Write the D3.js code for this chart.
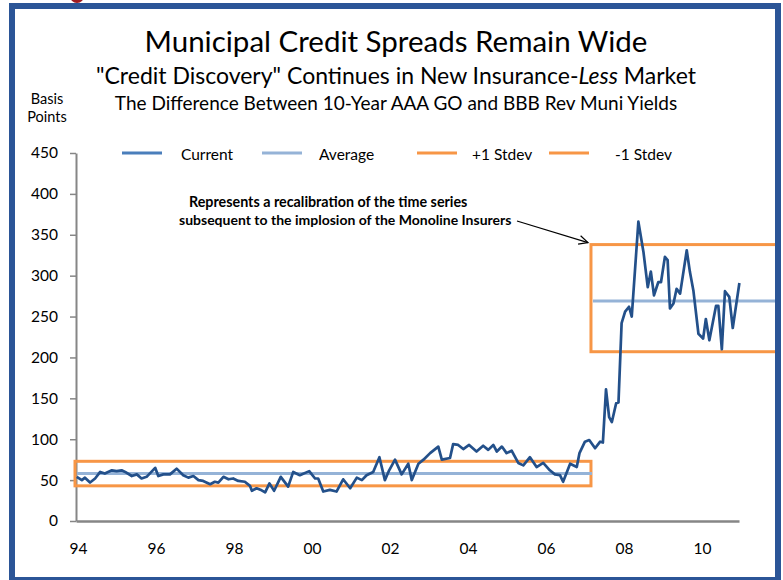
<!doctype html>
<html>
<head>
    <style>
        body { margin: 0; background: #fff; }
        text { font-family: Lato, "Open Sans", sans-serif; }
    </style>
    <script src="https://d3js.org/d3.v7.min.js"></script>
</head>
<body>
<svg width="783" height="580"></svg>
<script>

    // monthly-ish readings of the 10y AAA GO vs BBB Rev spread (bp)
    var years = [
        1994.02, 1994.15, 1994.23, 1994.36, 1994.49, 1994.62, 1994.74, 1994.92,
        1995.04, 1995.17, 1995.26, 1995.43, 1995.56, 1995.68, 1995.81,
        1996.03, 1996.11, 1996.24, 1996.41, 1996.58, 1996.75, 1996.88,
        1997.01, 1997.14, 1997.26, 1997.44, 1997.56, 1997.65, 1997.78, 1997.91,
        1998.03, 1998.16, 1998.33, 1998.46, 1998.51, 1998.63, 1998.76, 1998.85, 1998.96,
        1999.08, 1999.25, 1999.44, 1999.57, 1999.74, 1999.98,
        2000.13, 2000.21, 2000.34, 2000.51, 2000.68, 2000.85,
        2001.03, 2001.20, 2001.33, 2001.45, 2001.62, 2001.78, 2001.92,
        2002.03, 2002.18, 2002.35, 2002.52, 2002.61, 2002.78, 2002.91,
        2003.08, 2003.29, 2003.38, 2003.59, 2003.67, 2003.80, 2003.93,
        2004.08, 2004.27, 2004.44, 2004.57, 2004.70, 2004.79, 2004.92,
        2005.04, 2005.17, 2005.34, 2005.47, 2005.64, 2005.81, 2005.98,
        2006.15, 2006.28, 2006.41, 2006.49, 2006.67, 2006.84, 2006.91,
        2007.05, 2007.16, 2007.31, 2007.44, 2007.51, 2007.59, 2007.67, 2007.74, 2007.85, 2007.91, 2007.99,
        2008.08, 2008.18, 2008.25, 2008.42, 2008.55, 2008.66, 2008.74, 2008.82, 2008.93,
        2009.00, 2009.10, 2009.17, 2009.23, 2009.32, 2009.40, 2009.49, 2009.66, 2009.74, 2009.83, 2009.96,
        2010.08, 2010.15, 2010.24, 2010.41, 2010.47, 2010.56, 2010.64, 2010.75, 2010.84, 2011.01
    ];
    var spread = [
        54, 50, 53, 47, 52, 60, 58, 62,
        61, 62, 60, 55, 57, 52, 54,
        65, 55, 57, 57, 64, 56, 53,
        55, 50, 49, 45, 48, 47, 54, 51,
        52, 49, 48, 43, 37, 40, 37.5, 35, 46,
        37, 54, 42, 60, 56, 61,
        52, 52, 36, 38, 36, 51,
        40, 53, 50, 56, 60, 78, 50,
        62, 75, 57, 70, 50, 70, 75,
        83, 91, 75, 77, 94, 93, 88,
        93, 85, 92, 87, 93, 85, 91,
        83, 86, 71, 68, 78, 66, 71,
        62, 57, 56, 48, 70, 66, 83,
        97, 99, 89, 97, 96, 161, 127, 121, 144, 145, 242,
        256, 262, 250, 366, 329, 286, 305, 276, 292,
        292, 323, 319, 260, 266, 284, 278, 331, 305, 282, 229,
        223, 247, 221, 263, 263, 210, 281, 274, 236, 291
    ];

    // two regimes: before / after the monoline collapse
    var periodStart = [1994, 2007.23];
    var periodEnd = [2007.23, 2012];
    var average = [58, 269];
    var plusStdev = [73, 338];
    var minusStdev = [43, 207];

    var yTicks = [0, 50, 100, 150, 200, 250, 300, 350, 400, 450];
    var xTickYears = [1994, 1996, 1998, 2000, 2002, 2004, 2006, 2008, 2010];
    var xTickLabels = ["94", "96", "98", "00", "02", "04", "06", "08", "10"];

    var legendNames = ["Current", "Average", "+1 Stdev", "-1 Stdev"];
    var legendColors = ["#4a7ebb", "#95b3d7", "#f79646", "#f79646"];

    var svg = d3.select("svg");

    var x = d3.scaleLinear().domain([1994, 2011]).range([76, 739]);
    var y = d3.scaleLinear().domain([0, 450]).range([521, 153]);

    // titles
    svg.append("text").attr("x", 396).attr("y", 52).attr("text-anchor", "middle")
        .attr("font-size", "29.5px").text("Municipal Credit Spreads Remain Wide");

    var sub = svg.append("text").attr("x", 396).attr("y", 84).attr("text-anchor", "middle")
        .attr("font-size", "23px");
    sub.append("tspan").text("\"Credit Discovery\" Continues in New Insurance-");
    sub.append("tspan").attr("font-style", "italic").text("Less");
    sub.append("tspan").text(" Market");

    svg.append("text").attr("x", 396).attr("y", 110).attr("text-anchor", "middle")
        .attr("font-size", "19px").text("The Difference Between 10-Year AAA GO and BBB Rev Muni Yields");

    svg.append("text").attr("x", 47).attr("y", 104).attr("text-anchor", "middle")
        .attr("font-size", "14.5px").text("Basis");
    svg.append("text").attr("x", 47).attr("y", 122).attr("text-anchor", "middle")
        .attr("font-size", "14.5px").text("Points");

    // legend
    var legendLineX = [122, 262, 417, 549];
    var legendTextX = [181, 319, 472, 615];
    legendNames.forEach(function(name, i) {
        svg.append("line")
            .attr("x1", legendLineX[i]).attr("x2", legendLineX[i] + 40)
            .attr("y1", 153).attr("y2", 153)
            .attr("stroke", legendColors[i]).attr("stroke-width", 3);
        svg.append("text").attr("x", legendTextX[i]).attr("y", 160)
            .attr("font-size", "15.5px").text(name);
    });

    // axes
    var yAxis = svg.append("g")
        .attr("transform", "translate(" + x(1994) + ",0)")
        .call(d3.axisLeft(y).tickValues(yTicks).tickSize(6).tickSizeOuter(0).tickPadding(12));
    yAxis.select(".domain").attr("stroke", "#868686").attr("stroke-width", 2);
    yAxis.selectAll(".tick line").attr("stroke", "#868686").attr("stroke-width", 1.5);
    yAxis.selectAll("text").attr("font-size", "15.5px").attr("fill", "#000")
        .style("font-family", "Lato, sans-serif");

    var xAxis = svg.append("g")
        .attr("transform", "translate(0," + y(0) + ")")
        .call(d3.axisBottom(x).tickValues(xTickYears).tickSize(0).tickSizeOuter(0).tickPadding(22)
            .tickFormat(function(d, i) { return xTickLabels[i]; }));
    xAxis.select(".domain").attr("stroke", "#868686").attr("stroke-width", 2.5);
    xAxis.selectAll("text").attr("font-size", "15.5px").attr("fill", "#000")
        .attr("dx", "2px").style("font-family", "Lato, sans-serif");

    // stdev boxes and averages
    var regimes = periodStart.map(function(s, i) {
        return { start: s, end: periodEnd[i], avg: average[i], hi: plusStdev[i], lo: minusStdev[i] };
    });

    svg.selectAll(".box").data(regimes).enter().append("rect")
        .attr("class", "box")
        .attr("x", function(d) { return x(d.start) - 1; })
        .attr("y", function(d) { return y(d.hi); })
        .attr("width", function(d) { return x(d.end) - x(d.start); })
        .attr("height", function(d) { return y(d.lo) - y(d.hi); })
        .attr("fill", "none").attr("stroke", "#f79646").attr("stroke-width", 3);

    svg.selectAll(".avg").data(regimes).enter().append("line")
        .attr("class", "avg")
        .attr("x1", function(d) { return x(d.start) + 1; })
        .attr("x2", function(d) { return x(d.end); })
        .attr("y1", function(d) { return y(d.avg); })
        .attr("y2", function(d) { return y(d.avg); })
        .attr("stroke", "#95b3d7").attr("stroke-width", 3);

    // the spread series
    var line = d3.line()
        .x(function(d, i) { return x(years[i]); })
        .y(function(d) { return y(d); });

    svg.append("path")
        .datum(spread)
        .attr("d", line)
        .attr("fill", "none")
        .attr("stroke", "#23508a")
        .attr("stroke-width", 2.7)
        .attr("stroke-linejoin", "round");

    // annotation
    svg.append("text").attr("x", 189).attr("y", 207).attr("font-size", "14.3px")
        .attr("font-weight", "bold").text("Represents a recalibration of the time series");
    svg.append("text").attr("x", 179).attr("y", 225).attr("font-size", "14px")
        .attr("font-weight", "bold").text("subsequent to the implosion of the Monoline Insurers");

    var tipX = x(periodStart[1]) - 4, tipY = y(plusStdev[1]) - 2;
    var fromX = 517, fromY = 221;
    var ang = Math.atan2(tipY - fromY, tipX - fromX);
    var hl = 10, hw = 0.45;
    svg.append("line").attr("x1", fromX).attr("y1", fromY).attr("x2", tipX).attr("y2", tipY)
        .attr("stroke", "#000").attr("stroke-width", 1.2);
    svg.append("path")
        .attr("d", "M" + (tipX - hl * Math.cos(ang - hw)) + "," + (tipY - hl * Math.sin(ang - hw)) +
            "L" + tipX + "," + tipY +
            "L" + (tipX - hl * Math.cos(ang + hw)) + "," + (tipY - hl * Math.sin(ang + hw)))
        .attr("fill", "none").attr("stroke", "#000").attr("stroke-width", 1.2);

    // slide frame
    svg.append("circle").attr("cx", 77).attr("cy", -4).attr("r", 7).attr("fill", "#9e1b20");
    svg.append("rect").attr("x", 12).attr("y", 6).attr("width", 766).attr("height", 574)
        .attr("fill", "none").attr("stroke", "#2b5597").attr("stroke-width", 6);

</script>
</body>
</html>
